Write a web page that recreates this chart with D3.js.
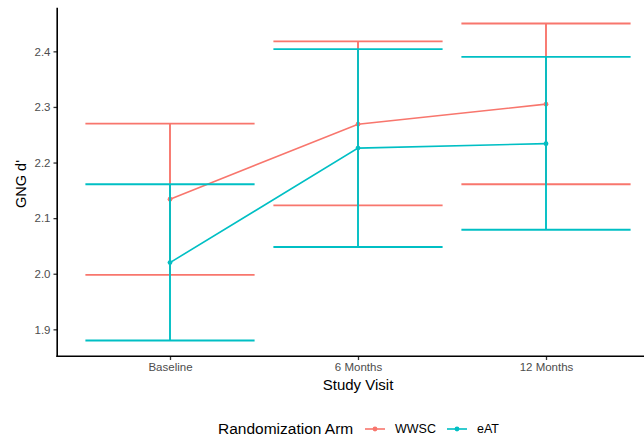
<!DOCTYPE html>
<html>
<head>
<meta charset="utf-8">
<script src="https://cdn.jsdelivr.net/npm/d3@7"></script>
<style>
  html, body { margin: 0; padding: 0; background: #fff; }
  svg { display: block; font-family: "Liberation Sans", Arial, sans-serif; }
</style>
</head>
<body>
<svg id="chart" width="644" height="440"></svg>
<script>
// Study visits on the x axis
const visits = ["Baseline", "6 Months", "12 Months"];
// Randomization arms
const arms = ["WWSC", "eAT"];
const armColors = ["#F8766D", "#00BFC4"];
// Mean GNG d' per visit, per arm
const meanWWSC = [2.134, 2.269, 2.305];
const meanEAT  = [2.020, 2.226, 2.234];
// Error bar bounds per visit, per arm
const lowerWWSC = [1.998, 2.123, 2.161];
const upperWWSC = [2.270, 2.418, 2.450];
const lowerEAT  = [1.880, 2.048, 2.079];
const upperEAT  = [2.161, 2.404, 2.390];
// y axis ticks
const yTicks = [1.9, 2.0, 2.1, 2.2, 2.3, 2.4];

const series = [
  { arm: arms[0], color: armColors[0], mean: meanWWSC, lo: lowerWWSC, hi: upperWWSC },
  { arm: arms[1], color: armColors[1], mean: meanEAT,  lo: lowerEAT,  hi: upperEAT }
];

const svg = d3.select("#chart");
const panel = { left: 57.2, right: 658.8, top: 7.7, bottom: 356.3 };

// y domain expanded 5% beyond the data range
const allVals = series.flatMap(s => s.lo.concat(s.hi));
const yMin = d3.min(allVals), yMax = d3.max(allVals);
const pad = (yMax - yMin) * 0.05;
const y = d3.scaleLinear().domain([yMin - pad, yMax + pad]).range([panel.bottom, panel.top]);
const x = d3.scalePoint().domain(visits).range([panel.left, panel.right]).padding(0.6);
const step = x.step();
const barHalf = step * 0.45;

const plot = svg.append("g");

// connecting lines
const line = d3.line().x((d, i) => x(visits[i])).y(d => y(d));
series.forEach(s => {
  plot.append("path")
    .attr("d", line(s.mean))
    .attr("fill", "none")
    .attr("stroke", s.color)
    .attr("stroke-width", 1.6);
});

// points
series.forEach(s => {
  plot.selectAll(null).data(s.mean).enter().append("circle")
    .attr("cx", (d, i) => x(visits[i]))
    .attr("cy", d => y(d))
    .attr("r", 2.4)
    .attr("fill", s.color);
});

// error bars
series.forEach(s => {
  const g = plot.append("g").attr("stroke", s.color).attr("stroke-width", 1.9).attr("fill", "none");
  visits.forEach((v, i) => {
    const cx = x(v);
    g.append("line").attr("x1", cx).attr("x2", cx).attr("y1", y(s.lo[i])).attr("y2", y(s.hi[i]));
    g.append("line").attr("x1", cx - barHalf).attr("x2", cx + barHalf).attr("y1", y(s.hi[i])).attr("y2", y(s.hi[i]));
    g.append("line").attr("x1", cx - barHalf).attr("x2", cx + barHalf).attr("y1", y(s.lo[i])).attr("y2", y(s.lo[i]));
  });
});

// axes
const yAxis = svg.append("g")
  .attr("transform", `translate(${panel.left},0)`)
  .call(d3.axisLeft(y).tickValues(yTicks).tickFormat(d3.format(".1f")).tickSize(3.7).tickPadding(3));
const xAxis = svg.append("g")
  .attr("transform", `translate(0,${panel.bottom})`)
  .call(d3.axisBottom(x).tickSize(3.7).tickPadding(3));

[yAxis, xAxis].forEach(a => {
  a.select(".domain").remove();
  a.selectAll(".tick line").attr("stroke", "#333333").attr("stroke-width", 1.3);
  a.selectAll(".tick text").attr("fill", "#4D4D4D").attr("font-size", 11.5)
    .attr("font-family", "Liberation Sans, Arial, sans-serif");
});

svg.append("line").attr("x1", panel.left).attr("x2", panel.left)
  .attr("y1", panel.top).attr("y2", panel.bottom + 0.8)
  .attr("stroke", "#000").attr("stroke-width", 1.6);
svg.append("line").attr("x1", panel.left - 0.8).attr("x2", 644)
  .attr("y1", panel.bottom).attr("y2", panel.bottom)
  .attr("stroke", "#000").attr("stroke-width", 1.6);

// axis titles
svg.append("text")
  .attr("x", (panel.left + panel.right) / 2).attr("y", 389.5)
  .attr("text-anchor", "middle").attr("font-size", 15).attr("fill", "#000")
  .text("Study Visit");
svg.append("text")
  .attr("transform", `translate(25.5,${(panel.top + panel.bottom) / 2 + 2}) rotate(-90)`)
  .attr("text-anchor", "middle").attr("font-size", 14.5).attr("fill", "#000")
  .text("GNG d'");

// legend
const legend = svg.append("g").attr("transform", "translate(0,429)");
legend.append("text").attr("x", 218).attr("y", 5.3).attr("font-size", 15.5).attr("fill", "#000")
  .text("Randomization Arm");
const keyX = [365, 447];
series.forEach((s, i) => {
  const k = legend.append("g").attr("transform", `translate(${keyX[i]},0)`);
  k.append("line").attr("x1", 0).attr("x2", 20).attr("y1", 0).attr("y2", 0)
    .attr("stroke", s.color).attr("stroke-width", 1.6);
  k.append("circle").attr("cx", 10).attr("cy", 0).attr("r", 2.4).attr("fill", s.color);
  k.append("text").attr("x", 30).attr("y", 4.3).attr("font-size", 12.5).attr("fill", "#000")
    .text(s.arm);
});
</script>
</body>
</html>
